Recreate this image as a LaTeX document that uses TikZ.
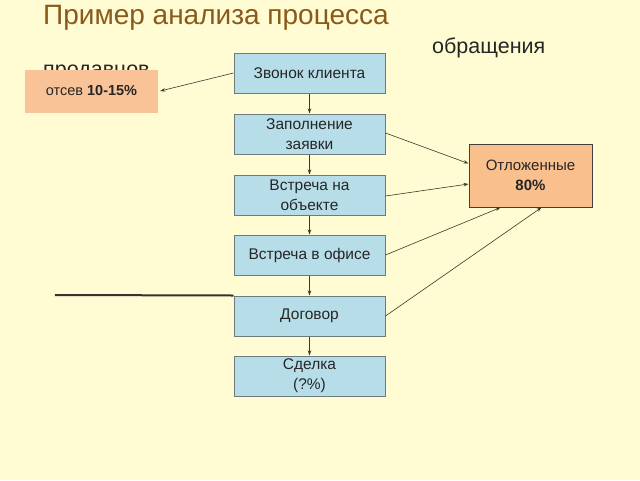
\documentclass[tikz,border=0pt]{standalone}
\usepackage{fontspec}
\setmainfont{Liberation Sans}
\usetikzlibrary{arrows.meta}
\definecolor{bg}{HTML}{FFFBD2}
\definecolor{boxblue}{HTML}{B7DEE8}
\definecolor{boxedge}{HTML}{6E7B7E}
\definecolor{orangeA}{HTML}{F9C397}
\definecolor{orangeB}{HTML}{F9C08E}
\definecolor{titlebrown}{HTML}{8A5A1C}
\definecolor{arr}{HTML}{3A3A2A}
\tikzset{
  stepbox/.style={draw=boxedge, line width=1pt, fill=boxblue, minimum width=151pt, minimum height=40pt, inner sep=0pt, align=center, font=\fontsize{15.5}{20}\selectfont, text=black!85},
  conn/.style={draw=arr, line width=0.6pt, -{Stealth[length=5pt,width=3.5pt]}},
}
\begin{document}
\begin{tikzpicture}[x=1pt,y=-1pt]
\fill[bg] (0,0) rectangle (640,480);
\useasboundingbox (0,0) rectangle (640,480);
% title
\node[anchor=base west, inner sep=0pt, text=titlebrown, font=\fontsize{28}{32}\selectfont] (title) at (43,24) {Пример анализа процесса};
\node[anchor=base west, inner sep=0pt, font=\fontsize{21.5}{25}\selectfont, text=black!85] (obr) at (432,53) {обращения};
\node[anchor=base west, inner sep=0pt, font=\fontsize{21.5}{25}\selectfont, text=black!85] (prod) at (43,76) {продавцов};
% boxes
\node[stepbox] (zv) at (309.5,73) {Звонок клиента};
\node[stepbox] (zap) at (309.5,134) {Заполнение\\заявки};
\node[stepbox] (vob) at (309.5,195) {Встреча на\\объекте};
\node[stepbox] (vof) at (309.5,255) {Встреча в офисе};
\node[stepbox] (dog) at (309.5,316) {Договор};
\node[stepbox] (sd) at (309.5,376) {Сделка\\(?\%)};
\node[fill=orangeA, minimum width=133pt, minimum height=43pt, inner sep=0pt, font=\fontsize{14.5}{17}\selectfont, text=black!85] (ots) at (91.5,91) {отсев \textbf{10-15\%}};
\node[draw=black!75, line width=1pt, fill=orangeB, minimum width=123pt, minimum height=63pt, inner sep=0pt, align=center, font=\fontsize{15}{20}\selectfont, text=black!85] (otl) at (530.5,175.5) {Отложенные\\\textbf{80\%}};
% thick line
\coordinate (lstart) at (55,295);
\draw[line width=2pt, black!80] (lstart) -- (dog.north west);
% arrows
\draw[conn] (zv.west) -- ([xshift=2pt]ots.east);
\draw[conn] (zv.south) -- (zap.north);
\draw[conn] (zap.south) -- (vob.north);
\draw[conn] (vob.south) -- (vof.north);
\draw[conn] (vof.south) -- (dog.north);
\draw[conn] (dog.south) -- (sd.north);
\draw[conn] ([yshift=1pt]zap.east) -- ([yshift=12pt]otl.west);
\draw[conn] ([yshift=-1pt]vob.east) -- ([yshift=-8.5pt]otl.west);
\draw[conn] (vof.east) -- ([xshift=-30pt]otl.south);
\draw[conn] (dog.east) -- ([xshift=11pt]otl.south);
\end{tikzpicture}
\end{document}
